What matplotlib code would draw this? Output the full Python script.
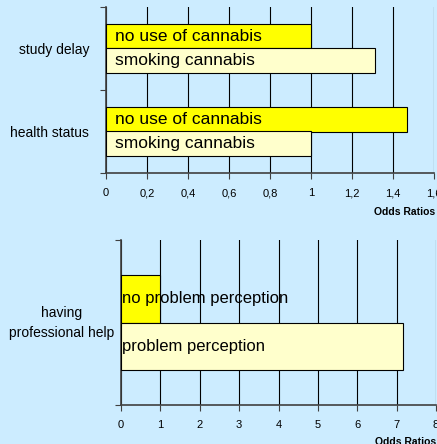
import matplotlib
matplotlib.use("Agg")
import matplotlib.pyplot as plt
from matplotlib.ticker import FuncFormatter

plt.rcParams['font.family'] = ['Liberation Sans', 'DejaVu Sans']

bg = '#ccecff'
yellow = '#ffff00'
pale = '#ffffcc'

# top chart
top_cats = ['health status', 'study delay']
no_use = [1.47, 1.0]
smoking = [1.0, 1.31]
top_xticks = [0, 0.2, 0.4, 0.6, 0.8, 1.0, 1.2, 1.4, 1.6]

# bottom chart
bot_cat = 'having\nprofessional help'
no_problem = 1.0
problem = 7.16
bot_xticks = [0, 1, 2, 3, 4, 5, 6, 7, 8]

W, H = 437, 444
fig = plt.figure(figsize=(W / 100, H / 100), dpi=100, facecolor=bg)

def style(ax):
    ax.set_facecolor(bg)
    for s in ['top', 'right']:
        ax.spines[s].set_visible(False)
    for s in ['left', 'bottom']:
        ax.spines[s].set_color('#404040')
        ax.spines[s].set_linewidth(1.2)
    ax.set_axisbelow(True)
    ax.grid(axis='x', color='black', linewidth=0.8)
    ax.tick_params(axis='both', which='major', direction='out', length=4,
                   color='#404040', labelsize=8, pad=7)
    ax.tick_params(axis='y', which='major', labelleft=False)
    ax.tick_params(axis='y', which='minor', length=0, labelsize=10, pad=12)

# ---- top
ax1 = fig.add_axes([106 / W, 1 - 173 / H, 328 / W, 166 / H])
style(ax1)
h = 0.29
pos = [0.5, 1.5]
ax1.barh([p + h / 2 for p in pos], no_use, height=h, color=yellow,
         edgecolor='black', linewidth=0.8, zorder=3)
ax1.barh([p - h / 2 for p in pos], smoking, height=h, color=pale,
         edgecolor='black', linewidth=0.8, zorder=3)
for p in pos:
    ax1.text(0.045, p + h / 2, 'no use of cannabis', fontsize=12.5,
             va='center', ha='left', zorder=4)
    ax1.text(0.045, p - h / 2, 'smoking cannabis', fontsize=12.5,
             va='center', ha='left', zorder=4)
ax1.set_xlim(0, 1.6)
ax1.set_ylim(0, 2)
ax1.set_xticks(top_xticks)
ax1.xaxis.set_major_formatter(FuncFormatter(lambda v, _: ('%g' % v).replace('.', ',')))
ax1.set_yticks([0, 1, 2])
ax1.set_yticks(pos, minor=True)
ax1.set_yticklabels(top_cats, minor=True)
fig.text(435 / W, 1 - 212 / H, 'Odds Ratios', fontsize=7.5, fontweight='bold',
         ha='right', va='center')

# ---- bottom
ax2 = fig.add_axes([121 / W, 1 - 405 / H, 315 / W, 165 / H])
style(ax2)
ax2.barh(0.5 + h / 2, no_problem, height=h, color=yellow,
         edgecolor='black', linewidth=0.8, zorder=3)
ax2.barh(0.5 - h / 2, problem, height=h, color=pale,
         edgecolor='black', linewidth=0.8, zorder=3)
ax2.text(0.02, 0.5 + h / 2, 'no problem perception', fontsize=12,
         va='center', ha='left', zorder=4)
ax2.text(0.02, 0.5 - h / 2, 'problem perception', fontsize=12,
         va='center', ha='left', zorder=4)
ax2.set_xlim(0, 8)
ax2.set_ylim(0, 1)
ax2.set_xticks(bot_xticks)
ax2.set_yticks([0, 1])
ax2.set_yticks([0.5], minor=True)
ax2.set_yticklabels([])
fig.text(62 / W, 1 - 323 / H, bot_cat, fontsize=10, ha='center', va='center',
         linespacing=1.5)
fig.text(436 / W, 1 - 442 / H, 'Odds Ratios', fontsize=7.5, fontweight='bold',
         ha='right', va='center')

fig.savefig('out.png', dpi=100, facecolor=bg)
